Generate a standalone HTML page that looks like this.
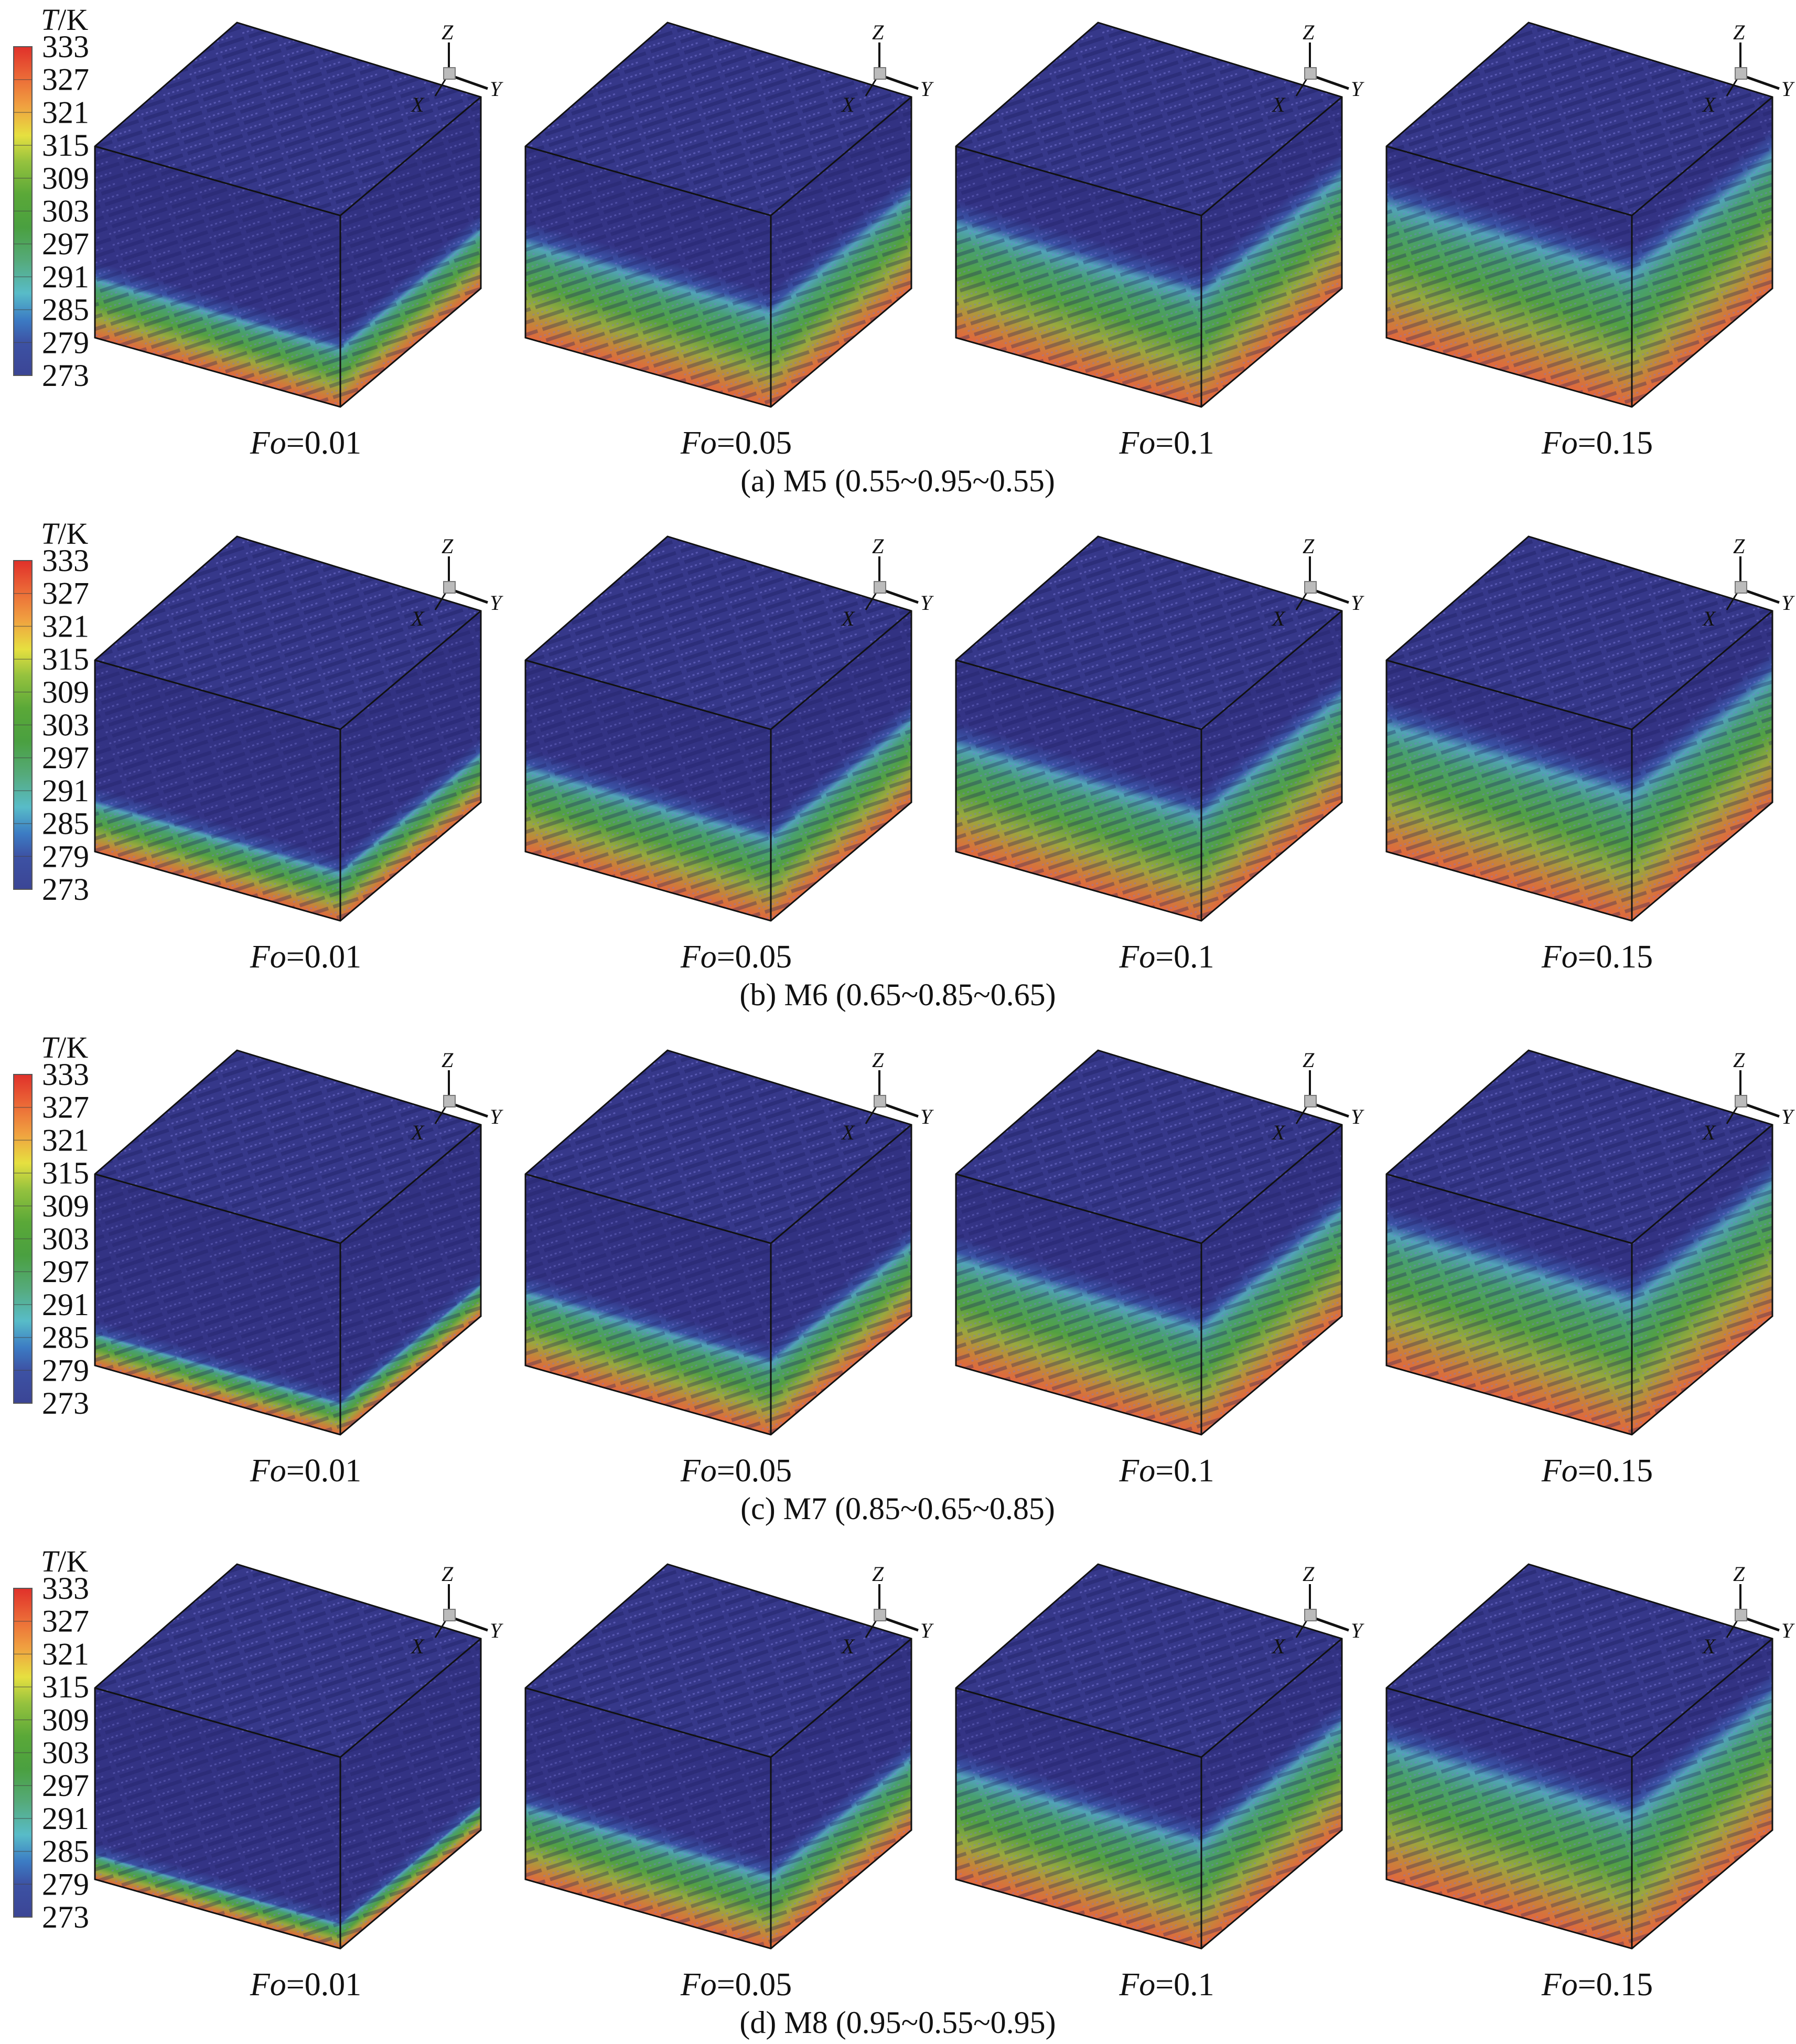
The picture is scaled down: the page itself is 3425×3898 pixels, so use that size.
<!DOCTYPE html>
<html><head><meta charset="utf-8"><style>
html,body{margin:0;padding:0;background:#fff;}
svg{display:block;}
svg text{font-family:"Liberation Serif","Times New Roman",serif !important;}
</style></head><body>
<svg id="fig" width="3425" height="3898" viewBox="0 0 3425 3898" xmlns="http://www.w3.org/2000/svg">
<defs>
<pattern id="fib" patternUnits="userSpaceOnUse" width="60" height="22" patternTransform="rotate(-18)">
<rect width="60" height="22" fill="none"/>
<line x1="0" y1="5" x2="44" y2="5" stroke="#7a78d8" stroke-width="3" stroke-dasharray="4 5" opacity="0.5"/>
<line x1="10" y1="15" x2="60" y2="15" stroke="#1e1e60" stroke-width="7" opacity="0.4"/>
</pattern>
<linearGradient id="cbgrad" x1="0" y1="1" x2="0" y2="0">
<stop offset="0" stop-color="#3b4595"/>
<stop offset="0.1" stop-color="#3d52a4"/>
<stop offset="0.17" stop-color="#3c7cc4"/>
<stop offset="0.25" stop-color="#58bcc8"/>
<stop offset="0.35" stop-color="#55aa7a"/>
<stop offset="0.45" stop-color="#4aa040"/>
<stop offset="0.55" stop-color="#5aa838"/>
<stop offset="0.65" stop-color="#95c23e"/>
<stop offset="0.73" stop-color="#e6e040"/>
<stop offset="0.82" stop-color="#f0a040"/>
<stop offset="0.9" stop-color="#ec6e38"/>
<stop offset="1" stop-color="#e0302a"/>
</linearGradient>
</defs>
</svg>
<script>
const fo = ["0.01","0.05","0.1","0.15"];
const captions = ["(a) M5 (0.55~0.95~0.55)","(b) M6 (0.65~0.85~0.65)","(c) M7 (0.85~0.65~0.85)","(d) M8 (0.95~0.55~0.95)"];
const rowNames = ["m5","m6","m7","m8"];
// fraction of cube height heated (level of blue boundary), per row and Fo
const heatM5 = [0.34, 0.55, 0.66, 0.78];
const heatM6 = [0.28, 0.48, 0.62, 0.74];
const heatM7 = [0.18, 0.42, 0.62, 0.78];
const heatM8 = [0.14, 0.42, 0.62, 0.78];
const heat = [heatM5, heatM6, heatM7, heatM8];
const ticks = ["333","327","321","315","309","303","297","291","285","279","273"];

const NS="http://www.w3.org/2000/svg";
const svg=document.getElementById('fig');
const defs=svg.querySelector('defs');
const FONT="Liberation Serif, Times New Roman, serif";
function mk(tag,attrs,parent){const e=document.createElementNS(NS,tag);for(const k in attrs)e.setAttribute(k,attrs[k]);if(tag==='text'){e.setAttribute('font-family',FONT);e.setAttribute('fill','#111');}(parent||svg).appendChild(e);return e;}
function tsp(parent,txt,italic){const s=document.createElementNS(NS,'tspan');if(italic)s.setAttribute('font-style','italic');s.textContent=txt;parent.appendChild(s);return s;}

const rowY0=43, rowStep=980, colX0=452, colStep=821, H=365;
function rowY(r){return rowY0+r*rowStep;}
function colX(c){return colX0+c*colStep;}

function makeGrad(id,f,px,py,skew){
  const g=mk('linearGradient',{id:id,gradientUnits:'userSpaceOnUse',x1:0,y1:0,x2:0,y2:-H,gradientTransform:'translate('+px+','+py+') skewY('+skew+')'},defs);
  const s=[[0,'#e2663e'],[0.14,'#c8823a'],[0.32,'#98a83e'],[0.52,'#52a042'],[0.74,'#48a070'],[0.88,'#52a2b8'],[0.96,'#3a52a4']];
  for(const [o,c] of s) mk('stop',{offset:Math.min(1,o*f),'stop-color':c},g);
  mk('stop',{offset:Math.min(1,f+0.06),'stop-color':'#343486'},g);
  mk('stop',{offset:1,'stop-color':'#323282'},g);
}

for(let r=0;r<4;r++){
  const y0=rowY(r);
  const row=mk('g',{});
  
  
  const cb=mk('g',{},row);
  
  
  const cbTop=y0+46, cbBot=y0+673;
  const bar=mk('rect',{x:26,y:cbTop,width:35,height:cbBot-cbTop,fill:'url(#cbgrad)',stroke:'#555','stroke-width':2},cb);
  
  
  const t=mk('text',{x:78,y:y0+14,'font-size':58},cb);
  
  
  tsp(t,'T',true); tsp(t,'/K',false);
  ticks.forEach((lab,i)=>{
    const ty=cbTop+(cbBot-cbTop)*i/(ticks.length-1);
    if(i>0&&i<ticks.length-1){const l=mk('line',{x1:26,x2:61,y1:ty,y2:ty,stroke:'#444','stroke-width':1.5,opacity:0.6},cb);
      
      }
    const tx=mk('text',{x:80,y:ty+20,'font-size':60},cb);
    
    
    tx.textContent=lab;
  });
  for(let c=0;c<4;c++){
    const x=colX(c), y=y0;
    const g=mk('g',{},row);
    
    
    const gl='hgl'+r+'_'+c, gr='hgr'+r+'_'+c;
    makeGrad(gl,heat[r][c],x+197,y+368+H,15.75);
    makeGrad(gr,heat[r][c],x+197,y+368+H,-40.1);
    const P=(dx,dy)=>(x+dx)+','+(y+dy);
    const top=[P(0,0),P(465,142),P(197,368),P(-271,236)].join(' ');
    const left=[P(-271,236),P(197,368),P(197,368+H),P(-271,236+H)].join(' ');
    const right=[P(197,368),P(465,142),P(465,142+H),P(197,368+H)].join(' ');
    mk('polygon',{points:top,fill:'#36388a'},g);
    mk('polygon',{points:left,fill:'url(#'+gl+')'},g);
    mk('polygon',{points:right,fill:'url(#'+gr+')'},g);
    mk('polygon',{points:top,fill:'url(#fib)'},g);
    mk('polygon',{points:left,fill:'url(#fib)',opacity:0.8},g);
    mk('polygon',{points:right,fill:'url(#fib)',opacity:0.8},g);
    const e=mk('path',{d:'M'+P(0,0)+' L'+P(465,142)+' L'+P(465,142+H)+' L'+P(197,368+H)+' L'+P(-271,236+H)+' L'+P(-271,236)+' Z M'+P(-271,236)+' L'+P(197,368)+' L'+P(465,142)+' M'+P(197,368)+' L'+P(197,368+H),fill:'none',stroke:'#111','stroke-width':3},g);
    
    
    const ax=mk('g',{},g);
    
    
    mk('line',{x1:x+404,y1:y+38,x2:x+404,y2:y+90,stroke:'#111','stroke-width':4},ax);
    mk('line',{x1:x+410,y1:y+102,x2:x+478,y2:y+126,stroke:'#111','stroke-width':5},ax);
    mk('line',{x1:x+400,y1:y+104,x2:x+378,y2:y+140,stroke:'#111','stroke-width':3},ax);
    mk('rect',{x:x+394,y:y+86,width:22,height:22,fill:'#bbb',stroke:'#777','stroke-width':2},ax);
    const zl=mk('text',{x:x+390,y:y+32,'font-size':40,'font-style':'italic'},ax); zl.textContent='Z';
    const yl=mk('text',{x:x+482,y:y+140,'font-size':40,'font-style':'italic'},ax); yl.textContent='Y';
    const xl=mk('text',{x:x+332,y:y+170,'font-size':40,'font-style':'italic'},ax); xl.textContent='X';
    const fl=mk('text',{x:x+131,y:y+822,'font-size':62,'text-anchor':'middle'},row);
    
    
    tsp(fl,'Fo',true); tsp(fl,'='+fo[c],false);
  }
  const cap=mk('text',{x:1712,y:y0+894,'font-size':60,'text-anchor':'middle'},row);
  
  
  cap.textContent=captions[r];
}
</script>
</body></html>
